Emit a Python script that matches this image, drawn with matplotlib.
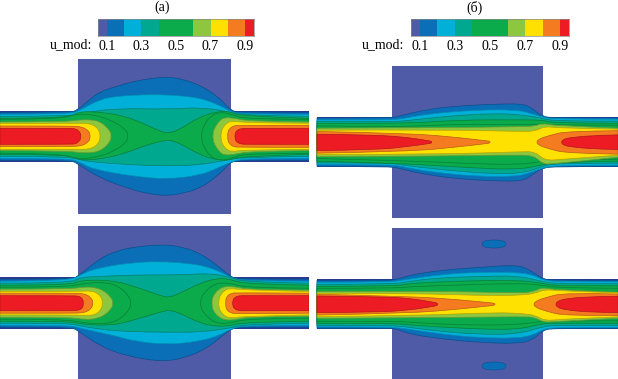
"""Velocity magnitude maps for the four channel/cavity cases."""

import matplotlib
matplotlib.use("Agg")
import matplotlib.pyplot as plt
import numpy as np
from matplotlib.patches import PathPatch
from matplotlib.path import Path

WIDTH, HEIGHT = 618, 379

CBAR_EDGES = [0.05, 0.1, 0.2, 0.3, 0.4, 0.5, 0.6, 0.7, 0.8, 0.9, 0.95]
CBAR_TICKS = [0.1, 0.3, 0.5, 0.7, 0.9]
BIN_COLORS = ["#4F5BA6", "#0B6FB8", "#00B0D8", "#00A88F", "#0BAA4B",
              "#0BAA4B", "#8DC63F", "#FFE100", "#F47B20", "#ED1C24"]
EDGE_COLORS = ["#2B3990", "#0A4F8C", "#008FB0", "#007F6C", "#087F38",
               "#087F38", "#6C9A30", "#B8A200", "#B85C18", "#B0151B"]


def both(x, half):
    """Contour that is the same above and below the axis."""
    return (x, half, x, half)


# each contour: x of upper edge, half width above axis, x of lower edge, half width below axis
A1_BOX = ([77.5, 231], 77.3, 77.3)
A1_CHANNEL = ([0, 309], 25.7)
A1_01 = ([0, 70, 77, 90, 100, 117, 133, 150, 167, 183, 200, 213, 223, 231, 240, 309],
         [24, 24, 26, 37, 44.7, 50, 54.7, 57.7, 59.5, 57, 51, 43, 34.7, 25.7, 24, 24],
         [0, 70, 77, 100, 133, 150, 167, 183, 200, 217, 227, 231, 240, 309],
         [24, 24, 27, 42, 53.7, 57.7, 59.5, 57, 52, 40, 30, 25.7, 24, 24])
A1_02 = ([0, 70, 80, 100, 117, 133, 150, 167, 183, 200, 213, 225, 232, 245, 309],
         [22, 22, 26, 37, 40, 41, 41.7, 41.3, 40.3, 38, 33.7, 28, 24, 22, 22],
         [0, 70, 80, 93, 133, 167, 200, 217, 230, 245, 309],
         [22, 22, 26, 33, 40, 43, 39, 32, 26, 22, 22])
A1_03 = ([0, 70, 87, 117, 167, 200, 227, 240, 309],
         [20, 20, 24, 28, 27, 29, 25, 21, 20],
         [0, 70, 83, 133, 167, 200, 227, 240, 309],
         [20, 20, 25, 28.7, 29.7, 28.7, 23.7, 21, 20])
A1_04 = ([0, 70, 78, 103, 125, 143, 160, 169, 180, 200, 217, 230, 240, 309],
         [18, 18, 25, 24, 20, 13, 5, 3, 7, 19.7, 24.7, 25, 20, 18],
         [0, 70, 78, 100, 125, 143, 160, 169, 180, 200, 217, 230, 240, 309],
         [18, 18, 24, 23, 17, 10, 5, 3.5, 7, 18.7, 23.7, 24, 20, 18])
A1_05L = both([0, 60, 78, 100, 117, 125, 127.7, 127.7], [17, 17, 23, 20.5, 13, 7, 3, 0])
A1_05R = both([201.7, 201.7, 204, 210, 220, 232, 245, 309], [0, 4, 11, 20, 24.5, 22, 17, 17])
A1_06L = both([0, 65, 80, 92, 100, 106, 110, 111, 111], [14.3, 14.5, 16.5, 16.5, 14.5, 10, 5, 2.5, 0])
A1_06R = both([213, 213, 215, 219, 224, 235, 250, 309], [0, 4, 9, 15, 19, 18, 15, 14.3])
A1_07L = both([0, 78, 88, 95, 98.5, 100, 100], [13, 13, 13, 10.5, 6.5, 3, 0])
A1_07R = both([221, 221, 223, 227, 232, 245, 309], [0, 4, 9, 13.5, 15.5, 13.5, 13])
A1_08L = both([0, 70, 80, 85, 88, 90, 90], [10.3, 10.3, 9.7, 8, 5.5, 3, 0])
A1_08R = both([227.7, 227.7, 229, 233, 240, 309], [0, 3.5, 7, 10.5, 11, 11])
A1_09L = both([0, 70, 76, 79, 80.7, 80.7], [8, 8, 7.5, 5, 2.5, 0])
A1_09R = both([235, 235, 237, 241, 248, 309], [0, 3, 6, 7.8, 8, 8])

A2_BOX = ([77.5, 231], 77.5, 75.8)
A2_CHANNEL = ([0, 309], 25.8)
A2_01 = ([0, 70, 77, 100, 117, 133, 163, 183, 200, 217, 231, 240, 309],
         [24, 24, 26, 45, 52.3, 56, 59, 56, 50, 38.3, 26, 24, 24],
         [0, 70, 77, 100, 127, 163, 187, 207, 222, 231, 240, 309],
         [24, 24, 26.7, 43, 53, 58.7, 54, 45, 33, 25.7, 24, 24])
A2_02 = ([0, 70, 83, 100, 133, 160, 187, 207, 223, 230, 245, 309],
         [22, 22, 30, 35.7, 40.7, 41.7, 40, 36.7, 30, 26, 22, 22],
         [0, 70, 80, 117, 133, 167, 200, 220, 230, 245, 309],
         [22, 22, 25, 33, 37.7, 41.7, 38, 32, 26, 22, 22])
A2_03 = ([0, 70, 80, 100, 133, 183, 210, 230, 245, 309],
         [20, 20, 26, 26.7, 28.3, 28.3, 30, 26, 21, 20],
         [0, 70, 80, 117, 167, 200, 230, 245, 309],
         [20, 20, 23, 28.3, 29, 29, 25, 21, 20])
A2_04 = ([0, 70, 80, 113, 140, 163, 170, 180, 200, 217, 230, 245, 309],
         [18, 18, 23, 23, 15, 6.5, 6, 10, 20, 25, 24, 19, 18],
         [0, 70, 80, 113, 140, 163, 170, 180, 200, 217, 230, 245, 309],
         [18, 18, 21, 22.5, 15, 8, 7, 10, 20, 23.3, 22.5, 19, 18])
A2_05L = both([0, 65, 85, 107, 120, 128, 130.7, 130.7], [16, 16, 20, 21, 16, 8, 3, 0])
A2_05R = both([200.7, 200.7, 203, 213, 227, 247, 309], [0, 4, 9, 19, 21, 15, 15])
A2_06L = both([0, 70, 85, 97, 106, 111, 112.7, 112.7], [14, 14, 16.5, 15.5, 11, 5.5, 2.5, 0])
A2_06R = both([212, 212, 214, 218, 225, 235, 250, 309], [0, 4, 8.5, 13.5, 17, 16.5, 13.5, 13])
A2_07L = both([0, 80, 90, 97, 101, 102.3, 102.3], [11.7, 11.7, 12.5, 10.5, 6, 3, 0])
A2_07R = both([218.7, 218.7, 221, 225, 230, 245, 309], [0, 4, 9, 13, 15, 13, 11.7])
A2_08L = both([0, 72, 82, 88, 91, 92.7, 92.7], [10, 10, 9.7, 8, 5, 2.5, 0])
A2_08R = both([225.7, 225.7, 227, 231, 238, 309], [0, 3.5, 7, 10, 10.5, 10])
A2_09L = both([0, 72, 79, 82, 83.3, 83.3], [7.5, 7.5, 7, 5, 2.5, 0])
A2_09R = both([232.7, 232.7, 235, 239, 246, 309], [0, 3, 6, 7.5, 7.5, 7.5])

B1_BOX = ([82.3, 233], 76.3, 76.3)
B1_CHANNEL = ([7, 308], 25.3)
B1_01 = ([7, 80, 88, 117, 150, 183, 213, 222, 232, 245, 308],
         [24.3, 24.3, 25.7, 33, 36.3, 38, 38.5, 34, 25.7, 24.3, 24.3],
         [7, 80, 88, 117, 150, 183, 213, 222, 232, 245, 308],
         [24.3, 24.3, 26, 32.7, 36.7, 38.7, 39, 32.7, 26, 24.3, 24.3])
B1_02 = ([7, 80, 90, 117, 167, 207, 220, 232, 245, 308],
         [22.3, 22.3, 23, 28.3, 32.3, 32.3, 29, 25, 23, 23],
         [7, 80, 92, 117, 167, 207, 220, 232, 245, 308],
         [22.3, 22.3, 24.3, 29.3, 34.3, 34.3, 30.3, 26, 23, 23])
B1_03 = ([7, 80, 90, 133, 183, 213, 232, 245, 308],
         [20.7, 20.7, 20.7, 25.7, 29, 27.3, 24, 21, 21],
         [7, 80, 90, 133, 183, 213, 232, 245, 308],
         [20.7, 20.7, 22.7, 27.7, 31.7, 31, 24.3, 21, 21])
B1_04 = ([7, 90, 150, 207, 232, 245, 308], [19, 18.3, 22.3, 22.3, 22.3, 19, 19],
         [7, 90, 150, 207, 232, 245, 308], [19, 21, 25, 27.7, 22.7, 20, 19])
B1_05 = ([7, 90, 150, 207, 232, 245, 308], [16.3, 15, 18.3, 17.3, 18.3, 17, 17],
         [7, 90, 150, 207, 232, 245, 308], [16.3, 18.3, 21, 22.7, 19.3, 18, 17])
B1_06 = ([7, 133, 210, 225, 232, 245, 308], [14, 14.5, 15.5, 16, 19, 16.5, 14],
         [7, 133, 210, 225, 232, 242, 308], [14.5, 14, 12.5, 14, 21.5, 22, 15])
B1_07 = ([7, 133, 210, 225, 235, 250, 308], [12, 12.5, 10.7, 11, 16, 14, 13],
         [7, 133, 210, 225, 235, 253, 308], [12.5, 12, 9.5, 9.5, 18.5, 17, 13])
B1_08L = ([7, 100, 150, 175, 180, 180], [10.7, 9, 4.5, 1.5, 1, 0],
          [7, 100, 150, 175, 180, 180], [11, 9.3, 4.5, 1.5, 1, 0])
B1_08R = ([227, 227, 240, 257, 308], [0, 2.5, 7, 11, 11.5],
          [227, 227, 240, 257, 308], [0, 2.5, 7, 11, 12])
B1_09L = ([7, 67, 100, 118, 121.7, 121.7], [8, 7.3, 4.5, 1.5, 1, 0],
          [7, 67, 100, 118, 121.7, 121.7], [8.3, 7.7, 4, 1.5, 1, 0])
B1_09R = both([251.7, 251.7, 262, 290, 308], [0, 2.5, 5, 7, 7.3])

B2_BOX = ([81.7, 233], 76, 74.7)
B2_CHANNEL = ([7, 308], 25)
B2_01 = ([7, 75, 85, 100, 133, 167, 207, 220, 233, 245, 308],
         [24, 24, 24.3, 29.3, 34.3, 36.7, 39.5, 34.3, 25, 24, 24],
         [7, 75, 85, 100, 133, 167, 207, 223, 233, 245, 308],
         [24, 24, 24, 30, 34.7, 38, 39.5, 35.7, 25.7, 24, 24])
B2_02 = ([7, 80, 93, 133, 167, 207, 223, 233, 245, 308],
         [22, 22, 24.3, 30, 32, 32, 29.3, 24.3, 22.5, 22.5],
         [7, 80, 93, 133, 167, 207, 223, 233, 245, 308],
         [22.5, 22.5, 24, 30, 33.3, 34, 30.7, 25, 23, 23])
B2_03 = ([7, 85, 100, 133, 167, 207, 233, 245, 308],
         [20, 20, 23.3, 26.7, 27.7, 28.7, 22.7, 20.5, 20.5],
         [7, 85, 100, 133, 167, 207, 233, 245, 308],
         [21, 21, 23.3, 27.3, 30, 30, 22.3, 21, 21])
B2_04 = ([7, 85, 100, 150, 207, 233, 245, 308], [18, 18, 21, 23.3, 24.3, 21, 18.5, 18.5],
         [7, 85, 100, 150, 207, 233, 245, 308], [19, 19, 20.7, 24, 25.7, 19, 19, 19])
B2_05 = ([7, 85, 100, 150, 207, 233, 245, 308], [16, 16, 17.7, 19.3, 21, 19.3, 16.5, 16],
         [7, 85, 100, 150, 207, 233, 245, 308], [17, 17, 18, 20.7, 20.7, 16.7, 16.7, 16.5])
B2_06 = ([7, 133, 210, 225, 232, 245, 308], [12.7, 13.3, 11, 13, 17, 14.3, 12],
         [7, 133, 213, 225, 233, 245, 308], [14, 13.3, 12.3, 13, 18, 17.3, 14])
B2_07 = ([7, 100, 187, 215, 225, 235, 250, 308], [11, 11, 8.3, 9.5, 11, 15, 13.3, 11.5],
         [7, 100, 187, 215, 225, 235, 250, 308], [12.3, 11.5, 8, 9.5, 11, 16.5, 15, 12.5])
B2_08L = ([7, 100, 150, 180, 185, 185], [10, 8, 4.5, 1.5, 1, 0],
          [7, 100, 150, 180, 185, 185], [10.7, 9, 4.7, 1.5, 1, 0])
B2_08R = ([224, 224, 236, 255, 308], [0, 2.5, 7, 11.5, 10.3],
          [224, 224, 236, 255, 308], [0, 2.5, 7, 11.5, 11.3])
B2_09L = ([7, 67, 100, 124, 127.7, 127.7], [8.3, 7.7, 6, 2, 1, 0],
          [7, 67, 100, 124, 127.7, 127.7], [8.3, 8, 5.7, 2, 1, 0])
B2_09R = ([246, 246, 258, 283, 308], [0, 3, 6, 7.7, 8],
          [246, 246, 258, 283, 308], [0, 3, 6, 8, 8.3])

# small closed islands of the 0.1 level in the lower right map
B2_ISLAND_X = [172, 172, 178, 190, 196, 196]
B2_ISLAND_SIZE = [0, 2, 4, 4, 2, 0]
B2_ISLAND_TOP = 60.3
B2_ISLAND_BOTTOM = 61.7

A1_LEVELS = [[A1_01], [A1_02], [A1_03], [A1_04], [A1_05L, A1_05R], [A1_06L, A1_06R],
             [A1_07L, A1_07R], [A1_08L, A1_08R], [A1_09L, A1_09R]]
A2_LEVELS = [[A2_01], [A2_02], [A2_03], [A2_04], [A2_05L, A2_05R], [A2_06L, A2_06R],
             [A2_07L, A2_07R], [A2_08L, A2_08R], [A2_09L, A2_09R]]
B1_LEVELS = [[B1_01], [B1_02], [B1_03], [B1_04], [B1_05], [B1_06], [B1_07],
             [B1_08L, B1_08R], [B1_09L, B1_09R]]
B2_LEVELS = [[B2_01], [B2_02], [B2_03], [B2_04], [B2_05], [B2_06], [B2_07],
             [B2_08L, B2_08R], [B2_09L, B2_09R]]


def add_axes_px(fig, left, top, right, bottom):
    return fig.add_axes([left / WIDTH, 1 - bottom / HEIGHT,
                         (right - left) / WIDTH, (bottom - top) / HEIGHT])


def curve(points, verts, codes):
    """Append a smooth run through the points, keeping both ends."""
    for i in range(1, len(points) - 1):
        end = points[i + 1] if i == len(points) - 2 else (points[i] + points[i + 1]) / 2
        verts += [points[i], end]
        codes += [Path.CURVE3, Path.CURVE3]


def contour_path(x_up, up, x_low, low):
    top = np.column_stack([x_up, up])
    bottom = np.column_stack([x_low, -np.array(low)])[::-1]
    verts, codes = [top[0]], [Path.MOVETO]
    curve(top, verts, codes)
    verts.append(bottom[0])
    codes.append(Path.LINETO)
    curve(bottom, verts, codes)
    verts.append(top[0])
    codes.append(Path.CLOSEPOLY)
    return Path(verts, codes)


def draw_map(fig, left, center, box, channel, levels, top=80, bottom=80):
    ax = add_axes_px(fig, left, center - top, left + 309, center + bottom)
    ax.set_xlim(0, 309)
    ax.set_ylim(-bottom, top)
    ax.axis("off")
    ax.fill_between(box[0], -box[2], box[1], color=BIN_COLORS[0], lw=0)
    ax.fill_between(channel[0], -channel[1], channel[1], color=EDGE_COLORS[0], lw=0)
    for i, contours in enumerate(levels, start=1):
        for contour in contours:
            ax.add_patch(PathPatch(contour_path(*contour), facecolor=BIN_COLORS[i],
                                   edgecolor=EDGE_COLORS[i], lw=0.5))
    return ax


def draw_colorbar(fig, left, right, title_x, label_right, title):
    ax = add_axes_px(fig, left, 19.3, right, 35.5)
    widths = np.diff(CBAR_EDGES)
    ax.bar(CBAR_EDGES[:-1], 1, width=widths, align="edge", color=BIN_COLORS, lw=0)
    ax.set_xlim(CBAR_EDGES[0], CBAR_EDGES[-1])
    ax.set_ylim(0, 1)
    ax.set_yticks([])
    ax.set_xticks(CBAR_TICKS, [f"{t:.1f}" for t in CBAR_TICKS])
    ax.tick_params(axis="x", length=0, pad=3.5, labelsize=10)
    for spine in ax.spines.values():
        spine.set_linewidth(0.5)
        spine.set_color("#888888")
    fig.text(label_right / WIDTH, 1 - 45 / HEIGHT, "u_mod:", ha="right", va="center", fontsize=10)
    fig.text(title_x / WIDTH, 1 - 7.5 / HEIGHT, title, ha="center", va="center", fontsize=10)


def main():
    plt.rcParams["font.family"] = ["Liberation Serif", "DejaVu Serif"]
    fig = plt.figure(figsize=(WIDTH / 100, HEIGHT / 100), dpi=100)

    draw_colorbar(fig, 98.3, 253.7, 162, 92, "(a)")
    draw_colorbar(fig, 411, 569, 474.5, 404, "(б)")

    draw_map(fig, 0, 136.3, A1_BOX, A1_CHANNEL, A1_LEVELS)
    draw_map(fig, 0, 303.2, A2_BOX, A2_CHANNEL, A2_LEVELS, bottom=75.8)
    draw_map(fig, 310, 142.2, B1_BOX, B1_CHANNEL, B1_LEVELS)
    ax = draw_map(fig, 310, 304.3, B2_BOX, B2_CHANNEL, B2_LEVELS, bottom=74.7)

    size = np.array(B2_ISLAND_SIZE)
    for middle in (B2_ISLAND_TOP, -B2_ISLAND_BOTTOM):
        outline = contour_path(B2_ISLAND_X, middle + size, B2_ISLAND_X, -(middle - size))
        ax.add_patch(PathPatch(outline, facecolor=BIN_COLORS[1], edgecolor=EDGE_COLORS[1], lw=0.4))

    fig.savefig("out.png", dpi=100)
    plt.close(fig)


if __name__ == "__main__":
    main()
